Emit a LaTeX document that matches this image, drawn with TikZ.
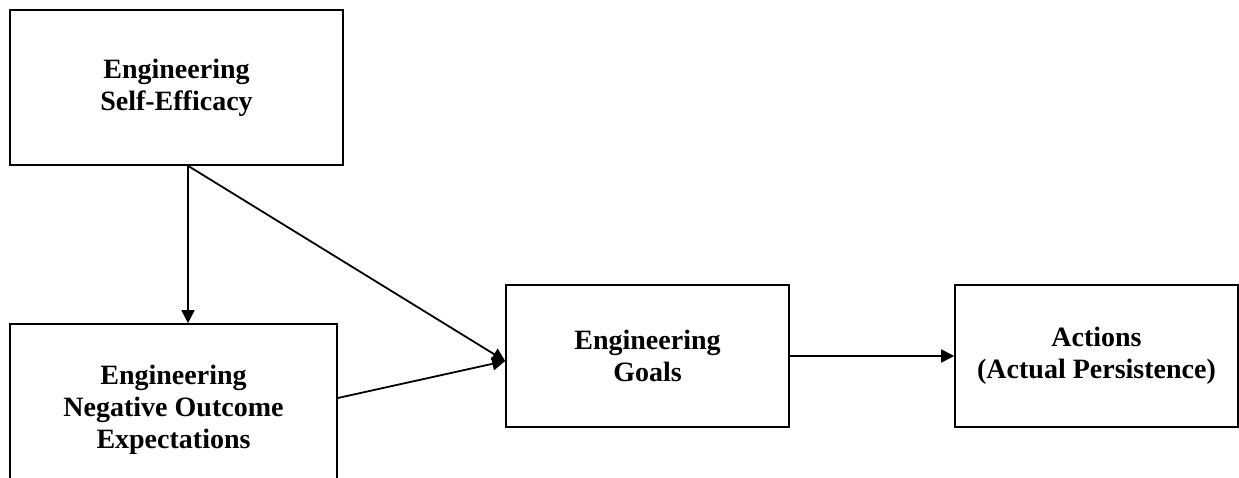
\documentclass[tikz,border=0pt]{standalone}
\usepackage{fontspec}
\setmainfont{Liberation Serif}
\usetikzlibrary{arrows.meta}
\tikzset{
  box/.style={draw, line width=1.6pt, inner sep=0pt, align=center,
    font=\fontsize{28}{32}\selectfont\bfseries},
  arr/.style={line width=1.8pt, -{Triangle[length=13pt,width=13pt]}}
}
\begin{document}
\begin{tikzpicture}[x=1pt,y=-1pt]
            \clip (0,0) rectangle (1239,478);
            \useasboundingbox (0,0) rectangle (1239,478);
            \node[box, minimum width=333pt, minimum height=155pt] (selfeff) at (176.5,87.5) {Engineering\\Self-Efficacy};
            \node[box, minimum width=327pt, minimum height=172pt] (negout) at (173.5,410) {Engineering\\Negative Outcome\\Expectations};
            \node[box, minimum width=283pt, minimum height=142pt] (goals) at (647.5,356) {Engineering\\Goals};
            \node[box, minimum width=283pt, minimum height=142pt] (actions) at (1096.5,356) {Actions\\(Actual Persistence)};
            \draw[arr] ([xshift=11.5pt]selfeff.south) -- ([xshift=14.5pt]negout.north);
            \draw[arr] ([xshift=11.5pt]selfeff.south) -- ([yshift=-5pt]goals.west);
            \draw[arr] ([yshift=12pt]negout.east) -- ([yshift=-5pt]goals.west);
            \draw[arr] (goals.east) -- (actions.west);
        \end{tikzpicture}
\end{document}
